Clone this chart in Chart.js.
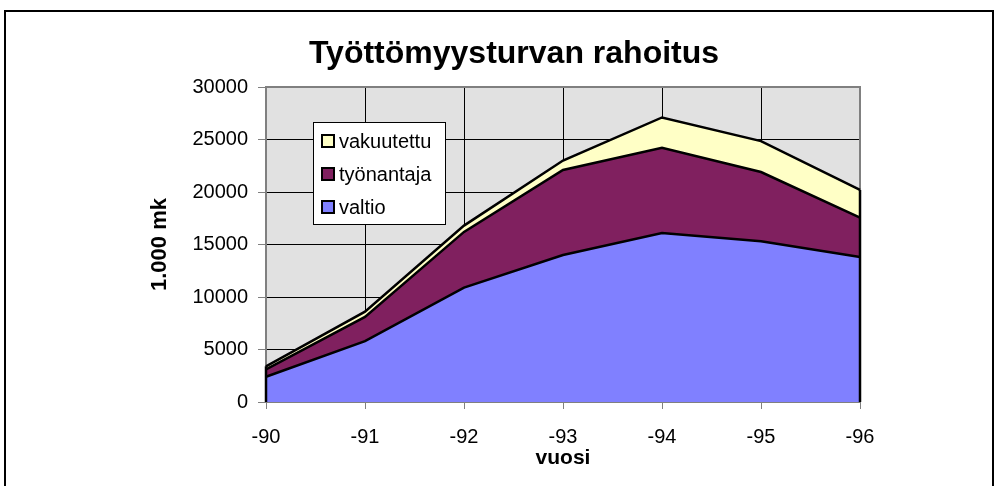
<!DOCTYPE html>
<html><head><meta charset="utf-8">
<script src="https://cdn.jsdelivr.net/npm/chart.js@4.4.1/dist/chart.umd.min.js"></script>
<style>
html,body{margin:0;padding:0;background:#fff;overflow:hidden}
#wrap{position:relative;width:996px;height:486px}
#frame{position:absolute;left:4px;top:10px;width:986px;height:520px;border:2px solid #000;pointer-events:none}
canvas{position:absolute;left:0;top:0}
</style></head><body>
<div id="wrap"><canvas id="c" width="996" height="486"></canvas><div id="frame"></div></div>
<script>
const categories = ['-90', '-91', '-92', '-93', '-94', '-95', '-96'];
const valtio     = [2400, 5800, 10900, 14000, 16100, 15300, 13800];
const tyonantaja = [700, 2300, 5300, 8100, 8100, 6600, 3750];
const vakuutettu = [300, 500, 600, 900, 2900, 2950, 2650];
const yMin = 0, yMax = 30000, yStep = 5000;
const chartTitle = 'Työttömyysturvan rahoitus';
const xTitle = 'vuosi';
const yTitle = '1.000 mk';

const FONT = "'Liberation Sans', Arial, sans-serif";

const bgPlugin = {
  id: 'bg',
  beforeDraw(chart) {
    const {ctx, chartArea: a} = chart;
    ctx.save();
    ctx.fillStyle = '#e1e1e1';
    ctx.fillRect(a.left, a.top, a.right - a.left, a.bottom - a.top);
    ctx.restore();
  },
  beforeDatasetsDraw(chart) {
    const {ctx, chartArea: a} = chart;
    ctx.save();
    ctx.strokeStyle = '#808080';
    ctx.lineWidth = 2;
    ctx.beginPath();
    ctx.moveTo(a.left, a.top);
    ctx.lineTo(a.right, a.top);
    ctx.lineTo(a.right, a.bottom);
    ctx.stroke();
    ctx.restore();
  },
  afterDatasetsDraw(chart) {
    const {ctx, chartArea: a} = chart;
    const n = chart.data.datasets.length;
    const meta = chart.getDatasetMeta(n - 1);
    const pts = meta.data;
    ctx.save();
    ctx.strokeStyle = '#000';
    ctx.lineWidth = 2.5;
    [pts[0], pts[pts.length - 1]].forEach(p => {
      ctx.beginPath();
      ctx.moveTo(p.x, p.y);
      ctx.lineTo(p.x, a.bottom);
      ctx.stroke();
    });
    ctx.restore();
  },
  afterDraw(chart) {
    const {ctx} = chart;
    ctx.save();
    ctx.fillStyle = '#000';
    ctx.font = 'bold 32px ' + FONT;
    ctx.textAlign = 'center';
    ctx.textBaseline = 'middle';
    ctx.fillText(chartTitle, 514, 54);
    const lx = 313, ly = 122, lw = 132, lh = 102;
    ctx.fillStyle = '#fff';
    ctx.fillRect(lx, ly, lw, lh);
    ctx.strokeStyle = '#000';
    ctx.lineWidth = 1;
    ctx.strokeRect(lx + 0.5, ly + 0.5, lw, lh);
    const ds = chart.data.datasets.slice().reverse();
    ctx.font = '20px ' + FONT;
    ctx.textAlign = 'left';
    ctx.textBaseline = 'middle';
    ds.forEach((d, i) => {
      const cy = 141 + i * 33;
      ctx.fillStyle = d.backgroundColor;
      ctx.fillRect(322, cy - 6, 12, 12);
      ctx.lineWidth = 2;
      ctx.strokeStyle = '#000';
      ctx.strokeRect(322, cy - 6, 12, 12);
      ctx.fillStyle = '#000';
      ctx.fillText(d.label, 339, cy + 1);
    });
    ctx.restore();
  }
};

const common = {borderColor: '#000', borderWidth: 2.5, pointRadius: 0, tension: 0};

new Chart(document.getElementById('c'), {
  type: 'line',
  data: {
    labels: categories,
    datasets: [
      Object.assign({label: 'valtio', data: valtio, backgroundColor: '#8080ff', fill: 'origin'}, common),
      Object.assign({label: 'työnantaja', data: tyonantaja, backgroundColor: '#80205f', fill: '-1'}, common),
      Object.assign({label: 'vakuutettu', data: vakuutettu, backgroundColor: '#ffffc6', fill: '-1'}, common)
    ]
  },
  options: {
    responsive: false,
    animation: false,
    devicePixelRatio: 1,
    layout: {padding: {left: 140, right: 136, top: 87, bottom: 0}},
    plugins: {legend: {display: false}, title: {display: false}, tooltip: {enabled: false}},
    scales: {
      x: {
        offset: false,
        grid: {color: '#000', lineWidth: 1, tickColor: '#808080', tickLength: 7, drawOnChartArea: true},
        border: {color: '#808080', width: 2},
        ticks: {color: '#000', font: {family: FONT, size: 20}, padding: 16, maxRotation: 0},
        title: {display: true, text: xTitle, color: '#000', font: {family: FONT, size: 21, weight: 'bold'}, padding: {top: 0, bottom: 15}},
        afterFit(s) { s.height = 84; }
      },
      y: {
        stacked: true,
        min: yMin, max: yMax,
        grid: {color: '#000', lineWidth: 1, tickColor: '#808080', tickLength: 8},
        border: {color: '#808080', width: 2},
        ticks: {stepSize: yStep, color: '#000', font: {family: FONT, size: 20}, padding: 10,
                callback: v => String(v)},
        title: {display: true, text: yTitle, color: '#000', font: {family: FONT, size: 22, weight: 'bold'}, padding: {top: 7, bottom: 0}},
        afterFit(s) { s.width = 126; }
      }
    }
  },
  plugins: [bgPlugin]
});
</script>
</body></html>
